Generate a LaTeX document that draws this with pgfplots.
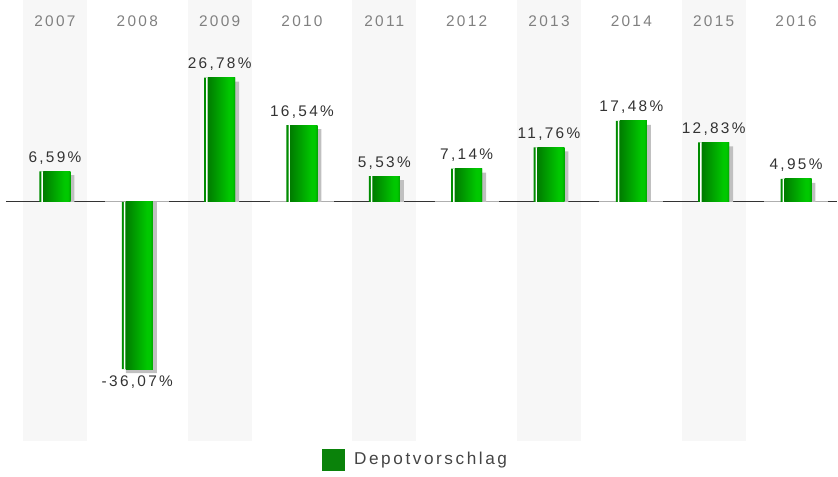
\documentclass[border=0pt]{standalone}
\usepackage{fontspec}
\setmainfont{Liberation Sans}[LetterSpace=15]
\usepackage{pgfplots}
\usepackage{pgfplotstable}
\pgfplotsset{compat=1.18}
\definecolor{bandc}{RGB}{247,247,247}
\definecolor{shadowc}{RGB}{192,192,192}
\definecolor{stripec}{RGB}{0,140,0}
\definecolor{gA}{RGB}{0,125,0}
\definecolor{gB}{RGB}{0,200,0}
\definecolor{gC}{RGB}{0,165,0}
\definecolor{leggreen}{RGB}{10,130,10}
\definecolor{labtext}{RGB}{51,51,51}
\definecolor{yeartext}{RGB}{128,128,128}
\definecolor{legtext}{RGB}{68,68,68}
\definecolor{darkline}{RGB}{51,51,51}
\definecolor{grayline}{RGB}{175,175,175}
\pgfdeclarehorizontalshading{barbody}{100bp}{color(0bp)=(gA); color(25bp)=(gA); color(64bp)=(gB); color(70bp)=(gB); color(75bp)=(gC); color(100bp)=(gC)}

\pgfplotstableread{
x y
0 6.59
1 -36.07
2 26.78
3 16.54
4 5.53
5 7.14
6 11.76
7 17.48
8 12.83
9 4.95
}\datatable

\begin{document}
\begin{tikzpicture}
\begin{axis}[
  width=628.5pt, height=357.75pt, scale only axis,
  xmin=-0.6675, xmax=9.502, ymin=-59.27, ymax=43.53,
  axis line style={draw=none}, xtick=\empty, ytick=\empty,
  clip=false,
  legend style={at={(0.4964,0.0356)}, anchor=center, draw=none, fill=none,
    font=\fontsize{12.9}{15}\selectfont, text=legtext, inner sep=0pt,
    column sep=5.5pt},
]
% background bands
\fill[bandc] (axis cs:-0.388,43.53) rectangle (axis cs:0.388,-51.66);
\fill[bandc] (axis cs:1.612,43.53) rectangle (axis cs:2.388,-51.66);
\fill[bandc] (axis cs:3.612,43.53) rectangle (axis cs:4.388,-51.66);
\fill[bandc] (axis cs:5.612,43.53) rectangle (axis cs:6.388,-51.66);
\fill[bandc] (axis cs:7.612,43.53) rectangle (axis cs:8.388,-51.66);
% zero line
\draw[darkline, line width=1pt] (axis cs:-0.595,0) -- (axis cs:9.502,0);
\draw[grayline, line width=1pt] (axis cs:0.612,0) -- (axis cs:1.388,0);
\draw[grayline, line width=1pt] (axis cs:2.612,0) -- (axis cs:3.388,0);
\draw[grayline, line width=1pt] (axis cs:4.612,0) -- (axis cs:5.388,0);
\draw[grayline, line width=1pt] (axis cs:6.612,0) -- (axis cs:7.388,0);
\draw[grayline, line width=1pt] (axis cs:8.612,0) -- (axis cs:9.388,0);
% year labels
\node[anchor=base, text=yeartext, font=\fontsize{11.55}{13}\selectfont] at (axis cs:0,37.71) {2007};
\node[anchor=base, text=yeartext, font=\fontsize{11.55}{13}\selectfont] at (axis cs:1,37.71) {2008};
\node[anchor=base, text=yeartext, font=\fontsize{11.55}{13}\selectfont] at (axis cs:2,37.71) {2009};
\node[anchor=base, text=yeartext, font=\fontsize{11.55}{13}\selectfont] at (axis cs:3,37.71) {2010};
\node[anchor=base, text=yeartext, font=\fontsize{11.55}{13}\selectfont] at (axis cs:4,37.71) {2011};
\node[anchor=base, text=yeartext, font=\fontsize{11.55}{13}\selectfont] at (axis cs:5,37.71) {2012};
\node[anchor=base, text=yeartext, font=\fontsize{11.55}{13}\selectfont] at (axis cs:6,37.71) {2013};
\node[anchor=base, text=yeartext, font=\fontsize{11.55}{13}\selectfont] at (axis cs:7,37.71) {2014};
\node[anchor=base, text=yeartext, font=\fontsize{11.55}{13}\selectfont] at (axis cs:8,37.71) {2015};
\node[anchor=base, text=yeartext, font=\fontsize{11.55}{13}\selectfont] at (axis cs:9,37.71) {2016};
% shadow
\addplot[ybar, bar width=23.25pt, bar shift=3pt, fill=shadowc, draw=none,
  y filter/.expression={y-0.86}, forget plot] table {\datatable};
% bar base (left stripe colour) with labels
\addplot[ybar, bar width=23.25pt, bar shift=0pt, fill=stripec, draw=none, forget plot,
  nodes near coords={\pgfmathprintnumber[fixed,fixed zerofill,precision=2,use comma,assume math mode=true]{\pgfplotspointmeta}\%},
  every node near coord/.append style={font=\fontsize{11.55}{13}\selectfont, text=labtext, inner sep=5pt}
  ] table {\datatable};
% white stripe
\addplot[ybar, bar width=1.1pt, bar shift=-9.56pt, fill=white, draw=none, forget plot] table {\datatable};
% shaded body, one plot per bar so that each bar gets its own gradient
\pgfplotsinvokeforeach{0,...,9}{
  \addplot[ybar, bar width=20.25pt, bar shift=1.5pt, draw=none, shading=barbody,
    x filter/.expression={abs(x-#1)<0.1 ? x : nan}, forget plot] table {\datatable};
}
% legend
\addlegendimage{legend image code/.code={\fill[leggreen] (0pt,-8pt) rectangle (16.5pt,8pt);}}
\addlegendentry{Depotvorschlag}
\end{axis}
\end{tikzpicture}
\end{document}
